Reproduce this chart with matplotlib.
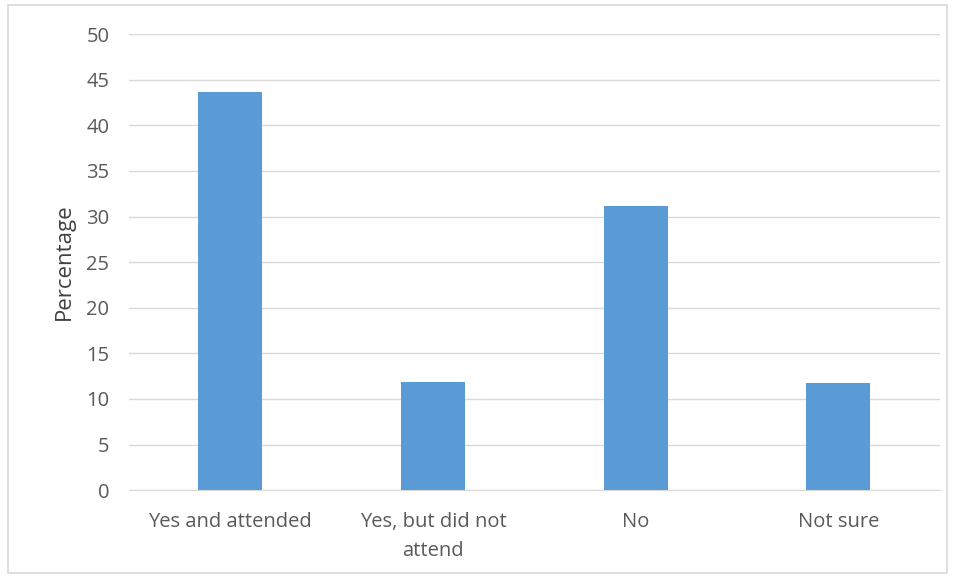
import matplotlib.pyplot as plt
from matplotlib.patches import Rectangle

categories = ['Yes and attended', 'Yes, but did not\nattend', 'No', 'Not sure']
values = [43.7, 11.9, 31.2, 11.7]
yticks = [0, 5, 10, 15, 20, 25, 30, 35, 40, 45, 50]

plt.rcParams['font.family'] = ['Open Sans', 'DejaVu Sans']

fig = plt.figure(figsize=(9.55, 5.78), dpi=100)
ax = fig.add_axes([0.135, 0.152, 0.849, 0.789])

x = range(len(categories))
ax.bar(x, values, width=0.315, color='#5b9bd5', zorder=3)

ax.set_xlim(-0.5, len(categories) - 0.5)
ax.set_ylim(0, 50)
ax.set_yticks(yticks)
ax.set_xticks(list(x))
ax.set_xticklabels(categories, fontsize=14.5, color='#595959', linespacing=1.55)
ax.tick_params(axis='y', labelsize=14.5, labelcolor='#595959', length=0, pad=14)
ax.tick_params(axis='x', length=0, pad=16)
ax.grid(axis='y', color='#d9d9d9', linewidth=1, zorder=0)
for s in ['top', 'right', 'left']:
    ax.spines[s].set_visible(False)
ax.spines['bottom'].set_color('#d9d9d9')
ax.set_ylabel('Percentage', fontsize=16, color='#404040', labelpad=8)

# outer chart border
fig.patches.append(Rectangle((0.008, 0.008), 0.984, 0.984, transform=fig.transFigure,
                             fill=False, edgecolor='#d9d9d9', linewidth=1.2))

fig.savefig('out.png', dpi=100)
plt.close(fig)
